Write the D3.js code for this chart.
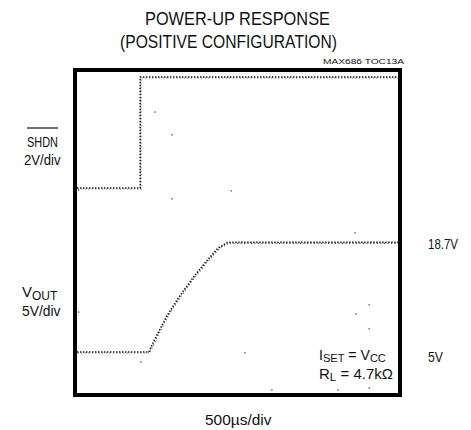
<!DOCTYPE html>
<html><head><meta charset="utf-8">
<script src="https://cdn.jsdelivr.net/npm/d3@7"></script>
<style>body{margin:0;background:#fff}svg{display:block}text{font-family:"Liberation Sans",Arial,sans-serif;fill:#111}</style>
</head><body>
<svg id="c" width="471" height="430"></svg>
<script>
// ---- data ----
const shdnTime  = [0, 985, 985, 5000];          // µs
const shdnVolts = [0.2, 0.2, 5.75, 5.75];       // V (2V/div, ref at 5 div)
const voutTime  = [0, 1120, 1200, 1400, 1600, 1800, 2000, 2200, 2350, 5000];
const voutVolts = [5.0, 5.0, 6.4, 9.5, 12.0, 14.2, 16.2, 18.0, 18.7, 18.7]; // V (5V/div, ref at 0 div)
const specksX = [2.43, 2.96, 2.96, 4.80, 5.23, 1.99, 9.10, 8.69, 9.10, 8.66, 0.05, 0.05, 6.07, 8.13, 9.10]; // divisions
const specksY = [7.0, 6.43, 4.83, 5.03, 0.98, 0.75, 2.18, 1.95, 1.58, 3.98, 5.05, 2.0, 0.05, 0.05, 0.1];
const timeDiv = 500;   // µs/div
const nDivX = 10, nDivY = 8;

const svg = d3.select("#c");
const x = d3.scaleLinear().domain([0, timeDiv * nDivX]).range([77, 398]);
const xd = d3.scaleLinear().domain([0, nDivX]).range([77, 398]);
const yd = d3.scaleLinear().domain([0, nDivY]).range([392, 72]);
const yShdn = v => yd(5 + v / 2);
const yVout = v => yd(v / 5);

// grid specks
svg.append("g").selectAll("rect").data(specksX.map((d, i) => [d, specksY[i]]))
  .join("rect").attr("x", d => xd(d[0]) - 0.6).attr("y", d => yd(d[1]) - 0.6)
  .attr("width", 1.3).attr("height", 1.3).attr("fill", "#444");

// traces
const shdn = shdnTime.map((t, i) => [t, shdnVolts[i]]);
const vout = voutTime.map((t, i) => [t, voutVolts[i]]);
const lineS = d3.line().x(d => x(d[0])).y(d => yShdn(d[1]));
const lineV = d3.line().x(d => x(d[0])).y(d => yVout(d[1]));
[[shdn, lineS], [vout, lineV]].forEach(([data, line]) => {
  svg.append("path").datum(data).attr("d", line).attr("fill", "none")
    .attr("stroke", "#111").attr("stroke-width", 1.6).attr("stroke-dasharray", "1.4 1.6");
  svg.append("path").datum(data).attr("d", line).attr("fill", "none")
    .attr("transform", "translate(0.8,1)")
    .attr("stroke", "#444").attr("stroke-width", 1.1).attr("stroke-dasharray", "1 2.5");
});

// border
svg.append("rect").attr("x", 75).attr("y", 70).attr("width", 325).attr("height", 325)
  .attr("fill", "none").attr("stroke", "#000").attr("stroke-width", 4);

// text helper: place at (xx,yy) and squeeze horizontally to target width
function fit(sel, xx, yy, len) {
  sel.attr("x", 0).attr("y", 0);
  const w = sel.node().getBBox().width;
  const s = len ? len / w : 1;
  sel.attr("transform", `translate(${xx},${yy}) scale(${s},1)`);
  return sel;
}
function txt(s, xx, yy, size, len) {
  const t = svg.append("text").attr("font-size", size).text(s);
  return fit(t, xx, yy, len);
}
txt("POWER-UP RESPONSE", 145, 25, 18, 185);
txt("(POSITIVE CONFIGURATION)", 120, 48, 18, 217);
txt("MAX686 TOC13A", 323, 64, 8, 82);

// left labels
txt("SHDN", 27, 147, 15, 31);
svg.append("line").attr("x1", 27).attr("x2", 58).attr("y1", 128).attr("y2", 128)
  .attr("stroke", "#111").attr("stroke-width", 1.2);
txt("2V/div", 24, 165, 15, 37);
const vo = svg.append("text").attr("font-size", 15);
vo.append("tspan").text("V");
vo.append("tspan").attr("font-size", 12).attr("dy", 3).text("OUT");
fit(vo, 22, 297, 36);
txt("5V/div", 22, 316, 15, 39);

// right labels
txt("18.7V", 428, 249, 15, 30);
txt("5V", 428, 362, 15, 15);

// annotations
const is = svg.append("text").attr("font-size", 14);
is.append("tspan").text("I");
is.append("tspan").attr("font-size", 11).attr("dy", 1.5).text("SET");
is.append("tspan").attr("dy", -1.5).text(" = V");
is.append("tspan").attr("font-size", 11).attr("dy", 1.5).text("CC");
fit(is, 319, 360, 67);
const rl = svg.append("text").attr("font-size", 14);
rl.append("tspan").text("R");
rl.append("tspan").attr("font-size", 11).attr("dy", 1.5).text("L");
rl.append("tspan").attr("dy", -1.5).text(" = 4.7kΩ");
fit(rl, 319, 379, 74);

txt("500µs/div", 205, 425, 15, 67);
</script>
</body></html>
